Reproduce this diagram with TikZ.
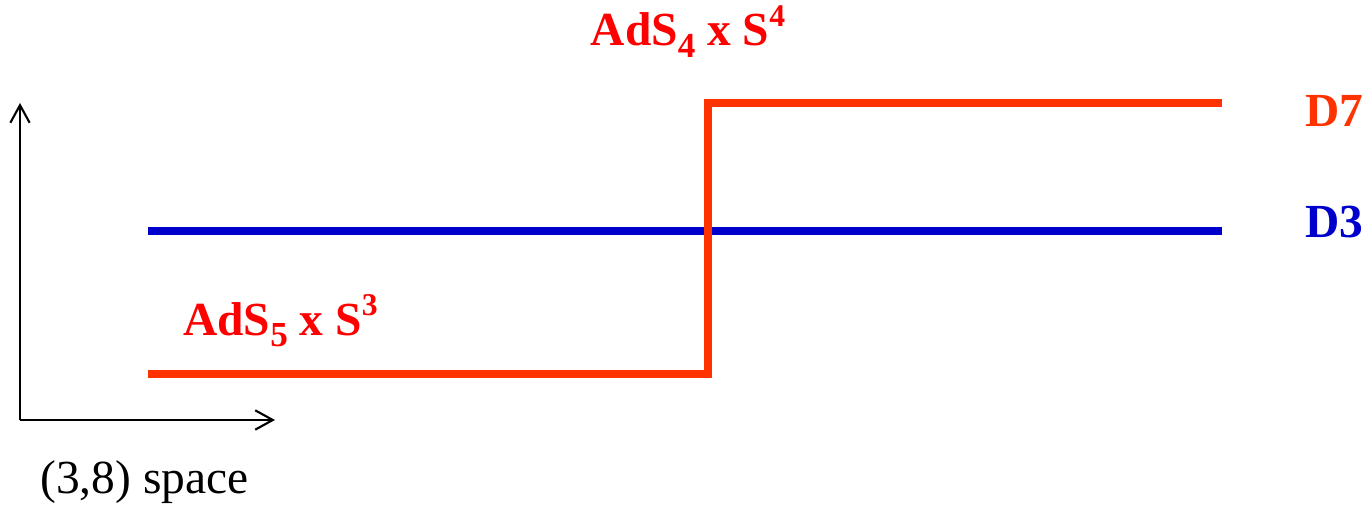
\documentclass[tikz,border=0pt]{standalone}
\usepackage{fontspec}
\setmainfont{Liberation Serif}
\usepackage{xcolor}
\usetikzlibrary{arrows.meta, positioning}

\definecolor{branered}{HTML}{FF3300}
\definecolor{braneblue}{HTML}{0000CC}
\definecolor{labelred}{HTML}{FF0000}

\newcommand{\lowidx}[1]{\raisebox{-0.24em}{\fontsize{20}{22}\selectfont #1}}
\newcommand{\highidx}[1]{\raisebox{0.42em}{\fontsize{18}{20}\selectfont #1}}

\begin{document}
\begin{tikzpicture}[
    axis/.style={line width=1.2pt, -{Straight Barb[length=10pt, width=11pt, line width=1.2pt]}},
    brane/.style={line width=4.5pt},
    lbl/.style={inner sep=0pt, font=\fontsize{27}{30}\selectfont\bfseries},
  ]
    \useasboundingbox (0,0) rectangle (27.28,10.1);

    % axes
    \coordinate (O) at (0.4,1.7);
    \coordinate (Yt) at (0.4,8.04);
    \coordinate (Xt) at (5.5,1.7);
    \draw[axis] (O) -- (Yt);
    \draw[axis] (O) -- (Xt);
    \node[inner sep=0pt, anchor=base west, font=\fontsize{27}{30}\selectfont] (space) at (0.8,0.24) {(3,8) space};

    % D3
    \coordinate (d3a) at (2.96,5.48);
    \coordinate (d3b) at (24.44,5.48);
    \draw[brane, draw=braneblue] (d3a) -- (d3b);
    \node[lbl, text=braneblue, anchor=base west] (D3) at (26.1,5.34) {D3};

    % D7
    \coordinate (d7a) at (2.96,2.62);
    \coordinate (d7b) at (14.16,2.62);
    \coordinate (d7c) at (14.16,8.04);
    \coordinate (d7d) at (24.44,8.04);
    \draw[brane, draw=branered] (d7a) -- (d7b) -- (d7c) -- (d7d);
    \node[lbl, text=branered, anchor=base west] (D7) at (26.1,7.56) {D7};

    % geometries
    \node[lbl, text=labelred, anchor=base west] (ads5) at (3.66,3.4) {AdS\lowidx{5} x S\highidx{3}};
    \node[lbl, text=labelred, anchor=base] (ads4) at (13.76,9.18) {AdS\lowidx{4} x S\highidx{4}};
\end{tikzpicture}
\end{document}
